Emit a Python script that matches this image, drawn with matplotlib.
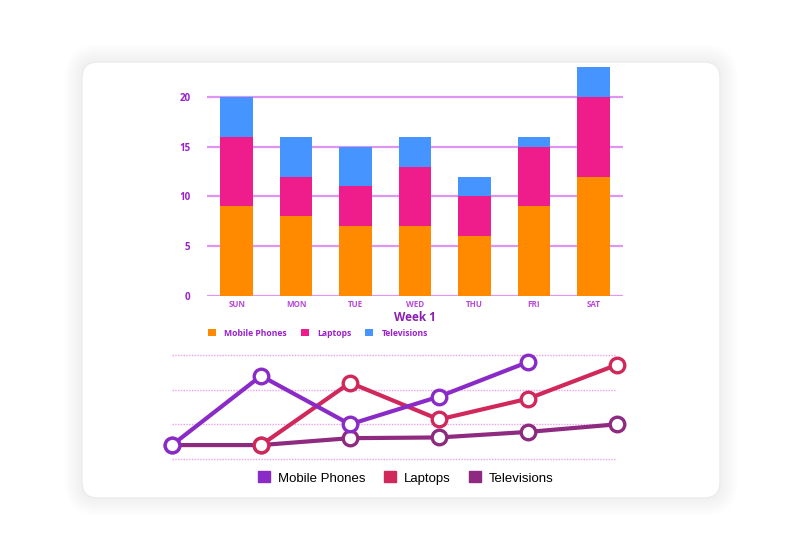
import matplotlib.pyplot as plt
from matplotlib.patches import FancyBboxPatch, Patch

days = ["SUN", "MON", "TUE", "WED", "THU", "FRI", "SAT"]
mobile = [9, 8, 7, 7, 6, 9, 12]
laptops = [7, 4, 4, 6, 4, 6, 8]
tvs = [4, 4, 4, 3, 2, 1, 3]

# trend lines (lower chart)
mobile_x = [0, 1, 2, 3, 4]
mobile_trend = [2, 12, 5, 9, 14]
laptop_x = [1, 2, 3, 4, 5]
laptop_trend = [2, 11, 5.7, 8.7, 13.6]
tv_x = [0, 1, 2, 3, 4, 5]
tv_trend = [2, 2, 3, 3.1, 3.9, 5]

c_orange = "#ff8a00"
c_pink = "#ef1c8c"
c_blue = "#4594ff"
c_purple_txt = "#9a22cc"

fig = plt.figure(figsize=(8, 5.6), dpi=100)

# card background with soft shadow, in pixel coords
bg = fig.add_axes([0, 0, 1, 1], zorder=0)
bg.set_xlim(0, 800)
bg.set_ylim(560, 0)
bg.axis("off")
for i in range(16):
    p = 1.2 * i
    bg.add_patch(FancyBboxPatch((82 - p, 62 - p), 638 + 2 * p, 436 + 2 * p,
                                boxstyle="round,pad=0,rounding_size=%f" % (16 + p),
                                fc="#000000", ec="none", alpha=0.005))
bg.add_patch(FancyBboxPatch((82, 62), 638, 436, boxstyle="round,pad=0,rounding_size=16",
                            fc="white", ec="#ececec", lw=1))

# stacked bars
ax = fig.add_axes([207 / 800, 1 - 296 / 560, 416 / 800, 229 / 560], zorder=2)
ax.patch.set_alpha(0)
x = range(len(days))
bottom2 = [m + l for m, l in zip(mobile, laptops)]
ax.bar(x, mobile, width=0.55, color=c_orange, zorder=3, label="Mobile Phones")
ax.bar(x, laptops, width=0.55, bottom=mobile, color=c_pink, zorder=3, label="Laptops")
ax.bar(x, tvs, width=0.55, bottom=bottom2, color=c_blue, zorder=3, label="Televisions")
ax.set_xlim(-0.5, 6.5)
ax.set_ylim(0, 23)
ax.set_yticks([0, 5, 10, 15, 20])
ax.set_xticks(list(x))
ax.set_xticklabels(days)
ax.yaxis.grid(True, color="#df95f2", lw=1.6, zorder=1)
ax.set_axisbelow(True)
for s in ax.spines.values():
    s.set_visible(False)
ax.tick_params(length=0)
ax.tick_params(axis="y", pad=12, labelsize=7, labelcolor=c_purple_txt)
ax.tick_params(axis="x", pad=3, labelsize=5.8, labelcolor="#b84ad8")
for t in ax.get_yticklabels() + ax.get_xticklabels():
    t.set_fontfamily("Open Sans")
    t.set_fontweight("bold")
ax.set_xlabel("Week 1", fontsize=8.5, fontweight="bold", color="#8a1fb0",
              family="Open Sans", labelpad=1)
ax.legend(loc="center", bbox_to_anchor=(318 / 800, 1 - 333 / 560),
          bbox_transform=fig.transFigure, ncol=3, frameon=False,
          prop={"family": "Open Sans", "weight": "bold", "size": 6.2},
          labelcolor=c_purple_txt, handlelength=0.9, handleheight=0.9,
          handletextpad=1.0, columnspacing=1.6)

# trend lines
ax2 = fig.add_axes([172 / 800, 1 - 461 / 560, 445 / 800, 108 / 560], zorder=2)
ax2.patch.set_alpha(0)
ax2.set_xlim(0, 5)
ax2.set_ylim(-0.3, 15.3)
ax2.set_yticks([0, 5, 10, 15])
ax2.set_xticks([])
ax2.yaxis.grid(True, color="#eca0ec", lw=1, ls=(0, (1, 1)))
for s in ax2.spines.values():
    s.set_visible(False)
ax2.tick_params(length=0, labelleft=False)
c_mob = "#8a2bc8"
c_lap = "#d0285a"
c_tv = "#8e2a80"
ax2.plot(tv_x, tv_trend, color=c_tv, lw=3, marker="o", ms=10.5, mfc="white",
         mec=c_tv, mew=2.4, clip_on=False, zorder=3)
ax2.plot(laptop_x, laptop_trend, color=c_lap, lw=3, marker="o", ms=10.5, mfc="white",
         mec=c_lap, mew=2.4, clip_on=False, zorder=4)
ax2.plot(mobile_x, mobile_trend, color=c_mob, lw=3, marker="o", ms=10.5, mfc="white",
         mec=c_mob, mew=2.4, clip_on=False, zorder=5)

handles = [Patch(color=c_mob, label="Mobile Phones"),
           Patch(color=c_lap, label="Laptops"),
           Patch(color=c_tv, label="Televisions")]
fig.legend(handles=handles, loc="center", bbox_to_anchor=(406 / 800, 1 - 478 / 560),
           ncol=3, frameon=False, prop={"family": "Liberation Sans", "size": 9.5},
           handlelength=0.9, handleheight=0.9, handletextpad=0.6, columnspacing=1.4)

fig.savefig("out.png", dpi=100)
